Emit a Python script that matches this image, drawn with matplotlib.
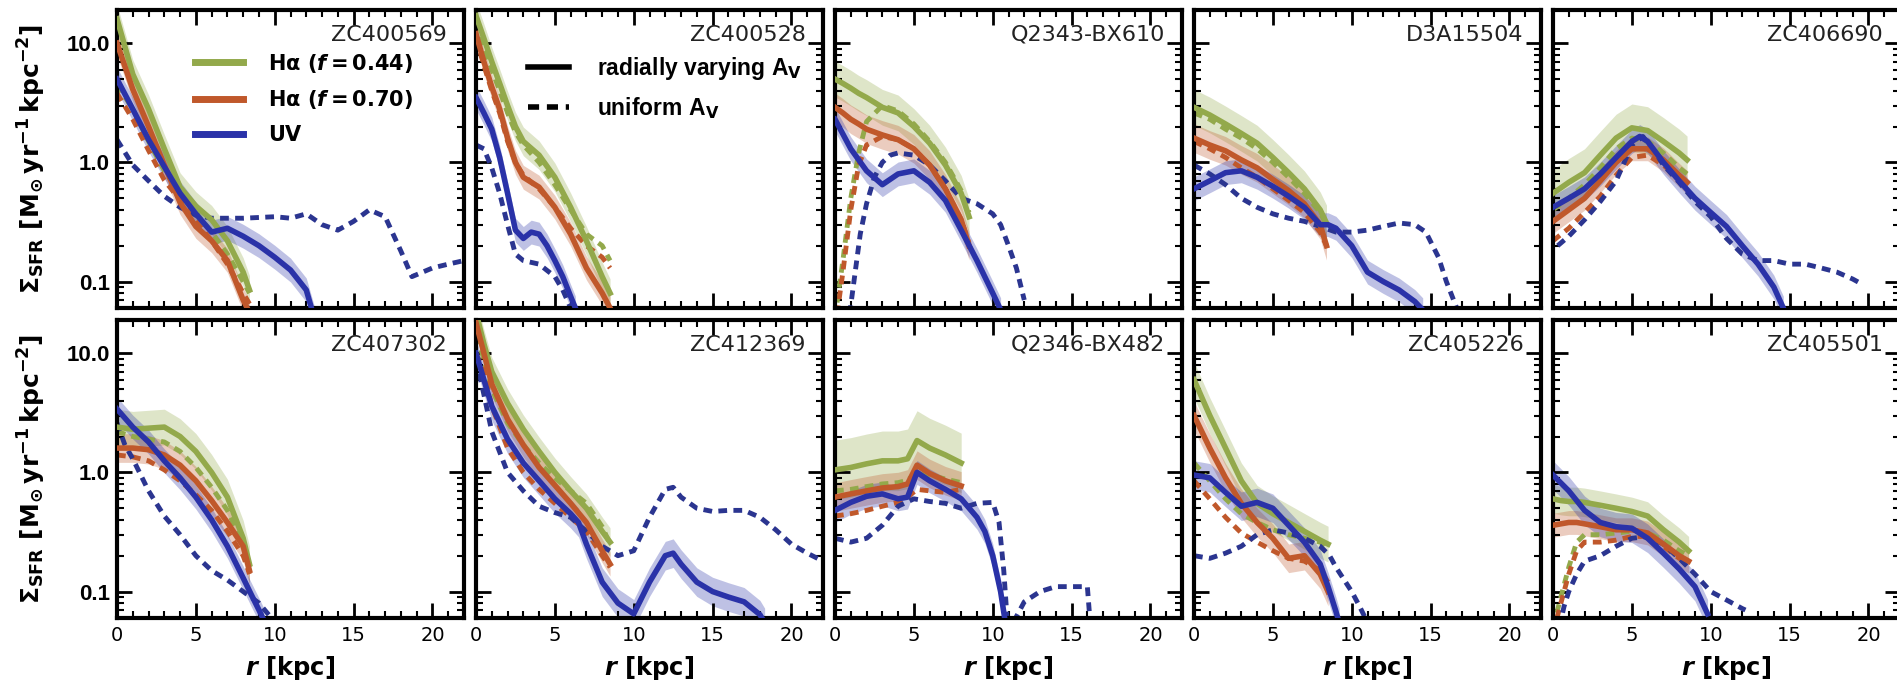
import numpy as np
import matplotlib.pyplot as plt
from matplotlib.lines import Line2D
from matplotlib.ticker import LogLocator, MultipleLocator, NullFormatter

plt.rcParams['mathtext.fontset'] = 'custom'
plt.rcParams['mathtext.rm'] = 'DejaVu Sans:bold'
plt.rcParams['mathtext.it'] = 'DejaVu Sans:italic:bold'
plt.rcParams['mathtext.bf'] = 'DejaVu Sans:bold'
plt.rcParams['mathtext.default'] = 'rm'

# galaxy names, top row then bottom row
names = ['ZC400569', 'ZC400528', 'Q2343-BX610', 'D3A15504', 'ZC406690',
         'ZC407302', 'ZC412369', 'Q2346-BX482', 'ZC405226', 'ZC405501']

# Halpha profiles (radius in kpc, Sigma_SFR in Msun/yr/kpc^2)
r_ha = [
    [0, 1, 2, 3, 4, 5, 6, 7, 8, 8.4],
    [0, 0.5, 1, 1.5, 2, 2.5, 3, 4, 5, 6, 7, 8, 8.5],
    [0, 0.5, 1, 1.5, 2, 3, 4, 5, 6, 7, 8, 8.5],
    [0, 1, 2, 3, 4, 5, 6, 7, 8, 8.4],
    [0, 1, 2, 3, 4, 5, 6, 7, 8, 8.5],
    [0, 1, 2, 3, 4, 5, 6, 7, 8, 8.4],
    [0, 0.5, 1, 2, 3, 4, 5, 6, 7, 8, 8.5],
    [0, 1, 2, 3, 4, 4.6, 5.2, 6, 7, 8],
    [0, 1, 2, 3, 4, 5, 6, 7, 8, 8.5],
    [0, 0.5, 1, 1.5, 2, 3, 4, 5, 6, 7, 8, 8.6],
]
ha44 = [
    [16, 5.5, 2.8, 1.3, 0.62, 0.43, 0.33, 0.22, 0.12, 0.085],
    [17, 11, 7, 4.6, 3, 2, 1.5, 1.15, 0.75, 0.42, 0.22, 0.11, 0.08],
    [5, 4.6, 4.2, 3.8, 3.5, 2.9, 2.6, 2.0, 1.45, 0.95, 0.55, 0.35],
    [2.9, 2.5, 2.1, 1.75, 1.45, 1.1, 0.82, 0.6, 0.4, 0.31],
    [0.55, 0.68, 0.82, 1.15, 1.6, 1.95, 1.85, 1.5, 1.2, 1.05],
    [2.4, 2.3, 2.35, 2.4, 2.0, 1.5, 1.0, 0.62, 0.28, 0.17],
    [22, 12, 7, 3.8, 2.3, 1.5, 1.0, 0.7, 0.5, 0.32, 0.26],
    [1.05, 1.1, 1.18, 1.25, 1.25, 1.3, 1.85, 1.6, 1.4, 1.2],
    [6, 3.0, 1.6, 0.85, 0.55, 0.45, 0.38, 0.32, 0.27, 0.25],
    [0.6, 0.58, 0.57, 0.57, 0.56, 0.53, 0.5, 0.47, 0.43, 0.33, 0.26, 0.22],
]
ha70 = [
    [10, 4.1, 2.0, 0.95, 0.46, 0.29, 0.22, 0.15, 0.07, 0.055],
    [12, 7, 4.3, 2.8, 1.6, 1.0, 0.75, 0.62, 0.42, 0.25, 0.13, 0.08, 0.06],
    [2.9, 2.6, 2.3, 2.1, 1.9, 1.7, 1.55, 1.3, 0.95, 0.6, 0.33, 0.2],
    [1.6, 1.4, 1.25, 1.05, 0.9, 0.72, 0.58, 0.45, 0.3, 0.2],
    [0.32, 0.4, 0.5, 0.7, 1.0, 1.3, 1.3, 1.05, 0.78, 0.68],
    [1.6, 1.6, 1.55, 1.4, 1.15, 0.85, 0.58, 0.38, 0.24, 0.15],
    [18, 10, 5.5, 2.8, 1.7, 1.1, 0.78, 0.55, 0.38, 0.22, 0.17],
    [0.62, 0.66, 0.7, 0.74, 0.76, 0.8, 1.15, 0.98, 0.85, 0.77],
    [3.0, 1.6, 0.9, 0.55, 0.38, 0.28, 0.19, 0.2, 0.14, 0.1],
    [0.36, 0.37, 0.38, 0.38, 0.37, 0.35, 0.33, 0.33, 0.31, 0.25, 0.2, 0.18],
]
ha44_uni = [
    [4.5, 2.8, 1.5, 0.85, 0.55, 0.38, 0.26, 0.17, 0.1, 0.08],
    [15, 9, 6, 4, 2.6, 1.8, 1.4, 1.0, 0.65, 0.4, 0.25, 0.2, 0.15],
    [0.05, 0.15, 0.5, 1.2, 2.2, 3.0, 2.7, 2.1, 1.5, 1.0, 0.58, 0.38],
    [2.6, 2.3, 1.9, 1.6, 1.3, 1.0, 0.75, 0.55, 0.38, 0.3],
    [0.4, 0.5, 0.65, 0.9, 1.3, 1.6, 1.5, 1.2, 0.9, 0.8],
    [2.2, 2.0, 1.9, 1.8, 1.5, 1.1, 0.75, 0.48, 0.25, 0.16],
    [14, 9, 5, 2.6, 1.7, 1.2, 0.9, 0.7, 0.55, 0.35, 0.25],
    [0.7, 0.72, 0.76, 0.8, 0.82, 0.86, 1.0, 0.95, 0.88, 0.82],
    [1.2, 0.85, 0.6, 0.45, 0.38, 0.33, 0.3, 0.28, 0.26, 0.24],
    [0.05, 0.09, 0.16, 0.26, 0.3, 0.3, 0.31, 0.32, 0.31, 0.27, 0.22, 0.2],
]
ha70_uni = [
    [3.8, 2.3, 1.26, 0.71, 0.48, 0.32, 0.22, 0.14, 0.08, 0.065],
    [11, 6.5, 4, 2.6, 1.5, 1.0, 0.78, 0.6, 0.42, 0.28, 0.2, 0.16, 0.13],
    [0.04, 0.12, 0.4, 0.95, 1.4, 1.65, 1.55, 1.3, 0.95, 0.6, 0.33, 0.21],
    [1.5, 1.3, 1.1, 0.9, 0.75, 0.6, 0.48, 0.38, 0.26, 0.2],
    [0.22, 0.28, 0.38, 0.52, 0.78, 1.1, 1.15, 0.95, 0.72, 0.65],
    [1.4, 1.35, 1.25, 1.05, 0.85, 0.65, 0.48, 0.32, 0.2, 0.14],
    [10, 7, 3.6, 1.6, 1.0, 0.72, 0.55, 0.42, 0.32, 0.2, 0.16],
    [0.43, 0.45, 0.48, 0.52, 0.56, 0.62, 0.72, 0.7, 0.68, 0.72],
    [0.85, 0.6, 0.42, 0.31, 0.26, 0.22, 0.19, 0.18, 0.15, 0.12],
    [0.045, 0.08, 0.14, 0.22, 0.26, 0.26, 0.27, 0.29, 0.29, 0.24, 0.19, 0.17],
]

# UV profiles
r_uv = [
    [0, 1, 2, 3, 4, 5, 6, 7, 8, 9, 10, 11, 12, 12.5],
    [0, 0.5, 1, 1.5, 2, 2.5, 3, 3.5, 4, 4.5, 5, 5.5, 6, 6.3],
    [0, 1, 2, 3, 4, 5, 6, 7, 8, 9, 10, 10.5],
    [0, 1, 2, 3, 4, 5, 6, 7, 8, 8.5, 9, 10, 11, 12, 13, 14, 14.5],
    [0, 1, 2, 3, 4, 5, 5.5, 6, 7, 8, 9, 10, 11, 12, 13, 14, 14.6],
    [0, 1, 2, 3, 4, 5, 6, 7, 8, 8.5, 9, 9.3],
    [0, 0.5, 1, 2, 3, 4, 5, 6, 6.5, 7, 8, 9, 10, 11, 12, 12.5, 13, 14, 15, 16, 17, 18, 18.3],
    [0, 1, 2, 3, 4, 4.6, 5.2, 6, 7, 8, 9, 9.5, 10, 10.5, 10.8],
    [0, 1, 2, 3, 4, 5, 6, 7, 8, 8.5, 9, 9.2],
    [0, 1, 2, 3, 4, 5, 6, 7, 8, 9, 9.8],
]
uv = [
    [5, 2.8, 1.55, 0.92, 0.55, 0.37, 0.26, 0.28, 0.24, 0.2, 0.16, 0.125, 0.085, 0.05],
    [3.5, 2.6, 1.9, 1.1, 0.55, 0.27, 0.23, 0.26, 0.25, 0.2, 0.15, 0.11, 0.075, 0.06],
    [2.3, 1.3, 0.85, 0.65, 0.8, 0.85, 0.68, 0.48, 0.27, 0.15, 0.08, 0.058],
    [0.6, 0.7, 0.82, 0.85, 0.75, 0.63, 0.52, 0.42, 0.3, 0.3, 0.28, 0.2, 0.12, 0.1, 0.085, 0.068, 0.058],
    [0.42, 0.5, 0.6, 0.8, 1.1, 1.5, 1.65, 1.5, 1.0, 0.7, 0.5, 0.38, 0.29, 0.2, 0.14, 0.09, 0.06],
    [3.4, 2.4, 1.8, 1.25, 0.9, 0.62, 0.4, 0.24, 0.13, 0.095, 0.07, 0.058],
    [10, 6, 3.6, 1.9, 1.2, 0.85, 0.6, 0.45, 0.38, 0.25, 0.12, 0.08, 0.065, 0.12, 0.2, 0.21,
     0.17, 0.12, 0.1, 0.09, 0.082, 0.064, 0.055],
    [0.48, 0.56, 0.63, 0.66, 0.6, 0.62, 1.0, 0.85, 0.72, 0.6, 0.42, 0.32, 0.2, 0.1, 0.055],
    [0.95, 0.9, 0.68, 0.52, 0.56, 0.5, 0.36, 0.26, 0.17, 0.11, 0.068, 0.055],
    [0.95, 0.7, 0.48, 0.38, 0.35, 0.34, 0.28, 0.21, 0.155, 0.11, 0.065],
]
r_uv_uni = [
    [0, 1, 2, 3, 4, 5, 6, 8, 10, 11, 12, 13, 14, 15, 16, 17, 18, 18.7, 20, 21, 22],
    [0, 0.5, 1, 1.5, 2, 2.5, 3, 4, 5, 5.5, 6],
    [0.8, 1.2, 1.6, 2, 2.5, 3, 3.5, 4, 5, 6, 7, 8, 9, 10, 10.5, 11, 11.5, 12],
    [0, 1, 2, 3, 4, 5, 6, 7, 8, 9, 10, 11, 12, 13, 14, 14.7, 15.5, 16, 16.7],
    [0.3, 1, 2, 3, 4, 5, 5.7, 6.5, 7, 8, 9, 10, 11, 12, 13, 14, 15, 16, 17, 18, 19, 19.6],
    [0, 0.5, 1, 2, 3, 4, 5, 6, 7, 8, 9, 9.7],
    [0, 0.5, 1, 2, 3, 4, 5, 6, 7, 8, 9, 10, 11, 12, 12.5, 13, 14, 15, 16, 17, 18, 19, 20, 21, 22],
    [0, 1, 2, 3, 4, 5, 6, 7, 8, 9, 10, 10.4, 10.7, 11, 11.3, 12, 13, 14, 15, 16, 16.2],
    [0, 1, 2, 3, 4, 5, 6, 7, 8, 8.6, 9, 10, 10.5, 11],
    [0.4, 0.7, 1, 1.5, 2, 3, 4, 5, 6, 7, 8, 9, 10, 11, 12, 12.2],
]
uv_uni = [
    [1.55, 0.95, 0.7, 0.52, 0.42, 0.36, 0.34, 0.34, 0.35, 0.34, 0.37, 0.3, 0.27, 0.32, 0.4,
     0.35, 0.18, 0.11, 0.13, 0.14, 0.15],
    [1.4, 1.3, 0.9, 0.55, 0.3, 0.17, 0.15, 0.14, 0.11, 0.085, 0.06],
    [0.04, 0.1, 0.25, 0.45, 0.75, 1.0, 1.15, 1.2, 1.15, 0.95, 0.7, 0.5, 0.45, 0.37, 0.3, 0.2, 0.13, 0.07],
    [0.95, 0.8, 0.65, 0.5, 0.42, 0.37, 0.34, 0.32, 0.29, 0.26, 0.26, 0.27, 0.29, 0.31, 0.3,
     0.26, 0.16, 0.1, 0.058],
    [0.2, 0.24, 0.33, 0.47, 0.7, 1.4, 1.65, 1.2, 0.95, 0.68, 0.47, 0.35, 0.23, 0.17, 0.15,
     0.15, 0.14, 0.14, 0.13, 0.12, 0.105, 0.095],
    [2.6, 1.7, 1.3, 0.7, 0.43, 0.3, 0.2, 0.15, 0.125, 0.1, 0.08, 0.062],
    [9, 4.5, 2.2, 1.0, 0.7, 0.52, 0.46, 0.42, 0.32, 0.24, 0.2, 0.22, 0.42, 0.72, 0.75, 0.62,
     0.5, 0.47, 0.48, 0.48, 0.42, 0.33, 0.25, 0.21, 0.18],
    [0.28, 0.26, 0.28, 0.36, 0.52, 0.6, 0.57, 0.55, 0.5, 0.55, 0.56, 0.38, 0.15, 0.04, 0.055,
     0.082, 0.1, 0.11, 0.11, 0.11, 0.05],
    [0.2, 0.19, 0.21, 0.24, 0.3, 0.33, 0.31, 0.28, 0.24, 0.2, 0.16, 0.1, 0.075, 0.055],
    [0.05, 0.075, 0.1, 0.14, 0.18, 0.2, 0.24, 0.28, 0.29, 0.25, 0.19, 0.14, 0.1, 0.085, 0.072, 0.07],
]

# half-width of the shaded uncertainty bands (dex), one value per panel
err_ha44 = [0.12, 0.12, 0.15, 0.15, 0.2, 0.15, 0.12, 0.25, 0.15, 0.12]
err_ha70 = [0.1, 0.1, 0.12, 0.12, 0.1, 0.12, 0.1, 0.12, 0.12, 0.1]
err_uv = [0.1, 0.1, 0.1, 0.1, 0.1, 0.1, 0.12, 0.1, 0.12, 0.12]

c_green = '#93a94b'
c_orange = '#c0582b'
c_blue = '#2a32a8'
c_blue_d = '#2b3590'

fig = plt.figure(figsize=(18.97, 6.89), dpi=100)
gs = fig.add_gridspec(2, 5, left=117/1897, right=1900/1897, top=1-10/689,
                      bottom=1-618/689, wspace=12/347, hspace=12/298)

dash = (1.8, 1.3)
for i, name in enumerate(names):
    row, col = divmod(i, 5)
    ax = fig.add_subplot(gs[row, col])

    rh = np.array(r_ha[i])
    ru = np.array(r_uv[i])
    for vals, err, c in [(ha44[i], err_ha44[i], c_green),
                         (ha70[i], err_ha70[i], c_orange)]:
        v = np.array(vals)
        ax.fill_between(rh, v * 10**-err, v * 10**err, color=c, alpha=0.3, lw=0, zorder=1)
    v = np.array(uv[i])
    ax.fill_between(ru, v * 10**-err_uv[i], v * 10**err_uv[i], color=c_blue, alpha=0.3, lw=0, zorder=1)

    ax.plot(rh, ha44_uni[i], color=c_green, lw=3.5, dashes=dash, zorder=2)
    ax.plot(rh, ha70_uni[i], color=c_orange, lw=3.5, dashes=dash, zorder=2)
    ax.plot(r_uv_uni[i], uv_uni[i], color=c_blue_d, lw=3.5, dashes=dash, zorder=2)
    ax.plot(rh, ha44[i], color=c_green, lw=4, zorder=3)
    ax.plot(rh, ha70[i], color=c_orange, lw=4, zorder=3)
    ax.plot(ru, uv[i], color=c_blue, lw=4, zorder=3)

    ax.set_yscale('log')
    ax.set_xlim(0, 22)
    ax.set_ylim(0.06, 19)
    ax.set_yticks([0.1, 1, 10])
    ax.set_xticks([0, 5, 10, 15, 20])
    ax.yaxis.set_minor_locator(LogLocator(base=10, subs=np.arange(2, 10)))
    ax.yaxis.set_minor_formatter(NullFormatter())
    ax.xaxis.set_minor_locator(MultipleLocator(1))
    ax.tick_params(which='both', direction='in', top=True, right=True)
    ax.tick_params(which='major', length=11, width=2)
    ax.tick_params(which='minor', length=5, width=1.5)
    ax.tick_params(axis='y', pad=5)
    ax.tick_params(axis='x', pad=6)
    for sp in ax.spines.values():
        sp.set_linewidth(3)

    if col == 0:
        ax.set_yticklabels(['0.1', '1.0', '10.0'], fontsize=16, fontweight='bold',
                           family='Liberation Sans')
        ax.set_ylabel(r'$\Sigma_{SFR}\ [M_{\odot}\,yr^{-1}\,kpc^{-2}]$', fontsize=18)
        ax.yaxis.set_label_coords(-0.2, 0.5)
    else:
        ax.set_yticklabels([])
    if row == 1:
        ax.set_xticklabels(['0', '5', '10', '15', '20'], fontsize=14, family='DejaVu Sans')
        ax.set_xlabel(r'$\mathit{r}\ [kpc]$', fontsize=17.5)
        ax.xaxis.set_label_coords(0.5, -0.12)
    else:
        ax.set_xticklabels([])

    ax.text(0.95, 0.95, name, transform=ax.transAxes, ha='right', va='top',
            fontsize=16, color='#222222', family='DejaVu Sans')

    if i == 0:
        h = [Line2D([], [], color=c, lw=5) for c in (c_green, c_orange, c_blue)]
        ax.legend(h, [r'$H\alpha\ (\mathit{f}=0.44)$', r'$H\alpha\ (\mathit{f}=0.70)$', r'$UV$'],
                  loc='upper left', bbox_to_anchor=(0.225, 0.86), frameon=False,
                  borderpad=0, borderaxespad=0, handlelength=2.3, handletextpad=1.2,
                  labelspacing=0.65, fontsize=15)
    if i == 1:
        h = [Line2D([], [], color='black', lw=4),
             Line2D([], [], color='black', lw=4, dashes=(2, 1.4))]
        ax.legend(h, [r'radially varying A$_\mathrm{V}$', r'uniform A$_\mathrm{V}$'],
                  loc='upper left', bbox_to_anchor=(0.15, 0.85), frameon=False,
                  borderpad=0, borderaxespad=0, handlelength=1.8, handletextpad=1.2,
                  labelspacing=0.6, prop={'family': 'Liberation Sans', 'weight': 'bold', 'size': 16.5})

fig.savefig('out.png', dpi=100)
